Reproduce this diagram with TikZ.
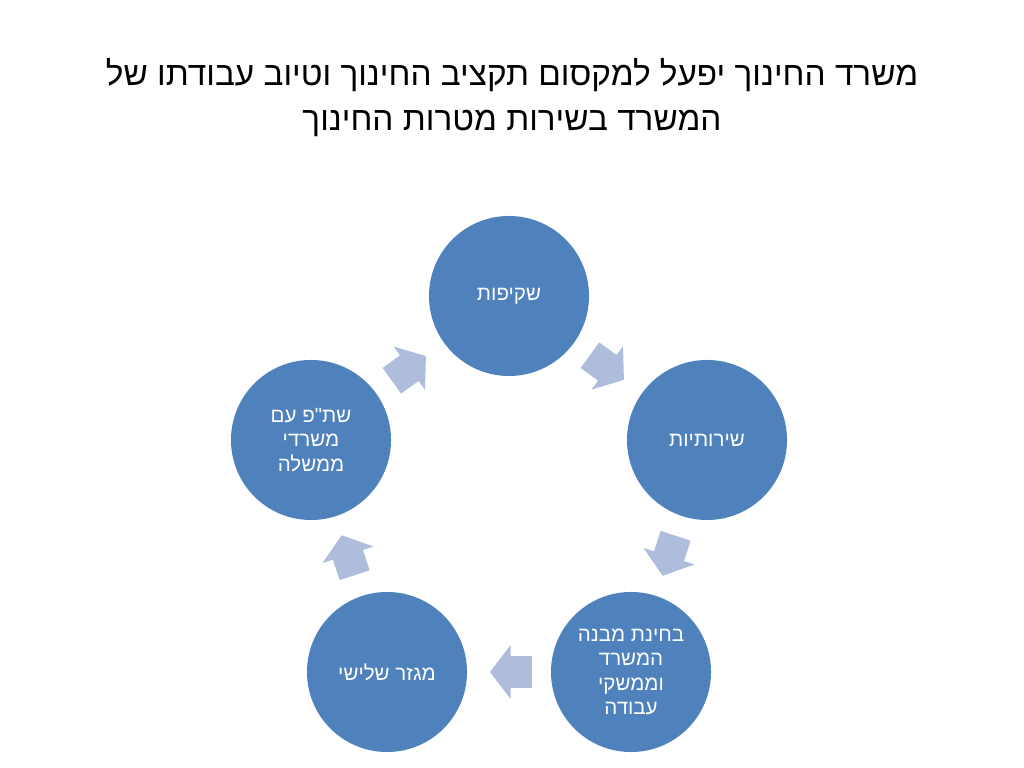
\documentclass[tikz,border=0pt]{standalone}
\usepackage{fontspec}
\setmainfont{Liberation Sans}
\newfontfamily\hebfont[Script=Hebrew]{Liberation Sans}
\TeXXeTstate=1
\usetikzlibrary{shapes.arrows}
\definecolor{circblue}{RGB}{79,129,189}
\definecolor{arrowblue}{RGB}{174,189,219}

\begin{document}
\begin{tikzpicture}[x=0.025cm, y=0.025cm,
                    main node/.style={circle, fill=circblue, draw=none, minimum size=4cm, inner sep=0pt,
                                      text=white, align=center, font=\hebfont\fontsize{14.6}{17.4}\selectfont},
                    flow arrow/.style={single arrow, fill=arrowblue, draw=none, inner xsep=0pt, inner ysep=0.3875cm,
                                       minimum height=1.05cm, single arrow tip angle=105,
                                       single arrow head extend=0.275cm, single arrow head indent=0pt}]

  \useasboundingbox (0, 0) rectangle (1024, 768);

  \node[font=\hebfont\fontsize{23.7}{32}\selectfont, align=center] (title) at (512, 670)
    {\beginR משרד החינוך יפעל למקסום תקציב החינוך וטיוב עבודתו של\endR\\
     \beginR המשרד בשירות מטרות החינוך\endR};

  \node[main node] (1) at (509, 472) {\beginR שקיפות\endR};
  \node[main node] (2) at (707, 328) {\beginR שירותיות\endR};
  \node[main node] (3) at (631, 96)  {\beginR בחינת מבנה\endR\\ \beginR המשרד\endR\\ \beginR וממשקי\endR\\ \beginR עבודה\endR};
  \node[main node] (4) at (387, 96)  {\beginR מגזר שלישי\endR};
  \node[main node] (5) at (311, 328) {\beginR שת"פ עם\endR\\ \beginR משרדי\endR\\ \beginR ממשלה\endR};

  \node[flow arrow, rotate=-36]  (a12) at (602, 404) {};
  \node[flow arrow, rotate=-108] (a23) at (671, 218) {};
  \node[flow arrow, rotate=180]  (a34) at (517, 96)  {};
  \node[flow arrow, rotate=108]  (a45) at (350, 207) {};
  \node[flow arrow, rotate=36]   (a51) at (404, 396) {};

\end{tikzpicture}
\end{document}
